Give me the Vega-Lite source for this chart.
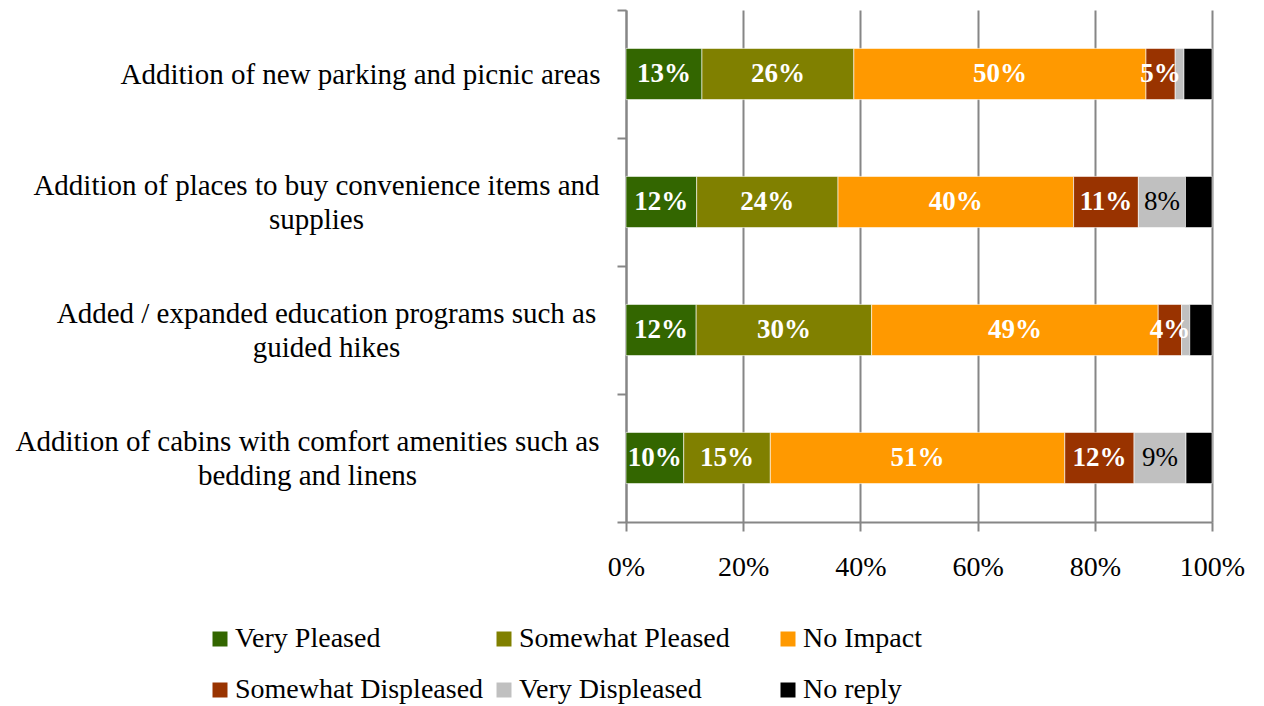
{
  "$schema": "https://vega.github.io/schema/vega-lite/v6.json",
  "width": 586,
  "height": 512,
  "autosize": "none",
  "padding": {"left": 626, "top": 10, "right": 52, "bottom": 184},
  "background": "white",
  "config": {
    "font": "Liberation Serif",
    "view": {"stroke": null}
  },
  "data": {
    "values": [
      {"item": "Addition of new parking and picnic areas", "resp": "Very Pleased", "k": 1, "p": 0.13},
      {"item": "Addition of new parking and picnic areas", "resp": "Somewhat Pleased", "k": 2, "p": 0.26},
      {"item": "Addition of new parking and picnic areas", "resp": "No Impact", "k": 3, "p": 0.50},
      {"item": "Addition of new parking and picnic areas", "resp": "Somewhat Displeased", "k": 4, "p": 0.05},
      {"item": "Addition of new parking and picnic areas", "resp": "Very Displeased", "k": 5, "p": 0.015},
      {"item": "Addition of new parking and picnic areas", "resp": "No reply", "k": 6, "p": 0.048},
      {"item": "Addition of places to buy convenience items and supplies", "resp": "Very Pleased", "k": 1, "p": 0.12},
      {"item": "Addition of places to buy convenience items and supplies", "resp": "Somewhat Pleased", "k": 2, "p": 0.24},
      {"item": "Addition of places to buy convenience items and supplies", "resp": "No Impact", "k": 3, "p": 0.40},
      {"item": "Addition of places to buy convenience items and supplies", "resp": "Somewhat Displeased", "k": 4, "p": 0.11},
      {"item": "Addition of places to buy convenience items and supplies", "resp": "Very Displeased", "k": 5, "p": 0.08},
      {"item": "Addition of places to buy convenience items and supplies", "resp": "No reply", "k": 6, "p": 0.045},
      {"item": "Added / expanded education programs such as guided hikes", "resp": "Very Pleased", "k": 1, "p": 0.12},
      {"item": "Added / expanded education programs such as guided hikes", "resp": "Somewhat Pleased", "k": 2, "p": 0.30},
      {"item": "Added / expanded education programs such as guided hikes", "resp": "No Impact", "k": 3, "p": 0.49},
      {"item": "Added / expanded education programs such as guided hikes", "resp": "Somewhat Displeased", "k": 4, "p": 0.04},
      {"item": "Added / expanded education programs such as guided hikes", "resp": "Very Displeased", "k": 5, "p": 0.014},
      {"item": "Added / expanded education programs such as guided hikes", "resp": "No reply", "k": 6, "p": 0.038},
      {"item": "Addition of cabins with comfort amenities such as bedding and linens", "resp": "Very Pleased", "k": 1, "p": 0.10},
      {"item": "Addition of cabins with comfort amenities such as bedding and linens", "resp": "Somewhat Pleased", "k": 2, "p": 0.15},
      {"item": "Addition of cabins with comfort amenities such as bedding and linens", "resp": "No Impact", "k": 3, "p": 0.51},
      {"item": "Addition of cabins with comfort amenities such as bedding and linens", "resp": "Somewhat Displeased", "k": 4, "p": 0.12},
      {"item": "Addition of cabins with comfort amenities such as bedding and linens", "resp": "Very Displeased", "k": 5, "p": 0.09},
      {"item": "Addition of cabins with comfort amenities such as bedding and linens", "resp": "No reply", "k": 6, "p": 0.045}
    ]
  },
  "encoding": {
    "y": {
      "field": "item",
      "type": "nominal",
      "sort": null,
      "title": null,
      "scale": {"paddingInner": 0, "paddingOuter": 0},
      "axis": {
        "tickBand": "extent",
        "domainColor": "#868686",
        "domainWidth": 2,
        "tickColor": "#868686",
        "tickWidth": 2,
        "tickSize": 9,
        "labelFont": "Liberation Serif",
        "labelFontSize": 29,
        "labelColor": "#000000",
        "labelPadding": {
          "condition": [
            {"test": "datum.value == 'Addition of new parking and picnic areas'", "value": 257},
            {"test": "datum.value == 'Added / expanded education programs such as guided hikes'", "value": 291},
            {"test": "datum.value == 'Addition of cabins with comfort amenities such as bedding and linens'", "value": 310}
          ],
          "value": 301
        },
        "labelOffset": {
          "condition": {"test": "datum.value != 'Addition of new parking and picnic areas'", "value": -17},
          "value": 0
        },
        "labelLimit": 700,
        "labelLineHeight": 34,
        "labelAlign": "center",
        "labelExpr": "datum.label == 'Addition of places to buy convenience items and supplies' ? ['Addition of places to buy convenience items and', 'supplies'] : datum.label == 'Added / expanded education programs such as guided hikes' ? ['Added / expanded education programs such as', 'guided hikes'] : datum.label == 'Addition of cabins with comfort amenities such as bedding and linens' ? ['Addition of cabins with comfort amenities such as', 'bedding and linens'] : datum.label"
      }
    }
  },
  "layer": [
    {
      "mark": {"type": "bar", "stroke": "white", "strokeWidth": 0.6, "height": {"band": 0.4}},
      "encoding": {
        "x": {
          "field": "p",
          "type": "quantitative",
          "stack": "normalize",
          "title": null,
          "scale": {"domain": [0, 1]},
          "axis": {
            "values": [0, 0.2, 0.4, 0.6, 0.8, 1],
            "format": ".0%",
            "grid": true,
            "gridColor": "#868686",
            "gridWidth": 2,
            "domainColor": "#868686",
            "domainWidth": 2,
            "tickColor": "#868686",
            "tickWidth": 2,
            "tickSize": 9,
            "labelFlush": false,
            "labelFont": "Liberation Serif",
            "labelFontSize": 28,
            "labelColor": "#000000",
            "labelPadding": 22
          }
        },
        "color": {
          "field": "resp",
          "type": "nominal",
          "title": null,
          "scale": {
            "domain": ["Very Pleased", "Somewhat Pleased", "No Impact", "Somewhat Displeased", "Very Displeased", "No reply"],
            "range": ["#336600", "#808000", "#FF9900", "#993300", "#C0C0C0", "#000000"]
          },
          "legend": {
            "orient": "none",
            "legendX": -420,
            "legendY": 615,
            "direction": "horizontal",
            "columns": 3,
            "gridAlign": "all",
            "columnPadding": 6,
            "rowPadding": 23,
            "symbolType": "square",
            "symbolSize": 225,
            "symbolStrokeWidth": 0,
            "symbolOpacity": 1,
            "labelFont": "Liberation Serif",
            "labelFontSize": 28,
            "labelColor": "#000000",
            "labelOffset": 1,
            "labelLimit": 400
          }
        },
        "order": {"field": "k", "type": "quantitative"}
      }
    },
    {
      "mark": {"type": "text", "font": "Liberation Serif", "fontSize": 27, "fontWeight": "bold", "color": "white", "baseline": "middle", "align": "center"},
      "encoding": {
        "x": {"field": "p", "type": "quantitative", "stack": "normalize", "bandPosition": 0.5},
        "text": {
          "condition": {"test": "datum.p >= 0.03 && datum.resp != 'No reply' && datum.resp != 'Very Displeased'", "field": "p", "type": "quantitative", "format": ".0%"},
          "value": ""
        },
        "order": {"field": "k", "type": "quantitative"}
      }
    },
    {
      "mark": {"type": "text", "font": "Liberation Serif", "fontSize": 27, "color": "black", "baseline": "middle", "align": "center"},
      "encoding": {
        "x": {"field": "p", "type": "quantitative", "stack": "normalize", "bandPosition": 0.5},
        "text": {
          "condition": {"test": "datum.resp == 'Very Displeased' && datum.p >= 0.03", "field": "p", "type": "quantitative", "format": ".0%"},
          "value": ""
        },
        "order": {"field": "k", "type": "quantitative"}
      }
    }
  ]
}
